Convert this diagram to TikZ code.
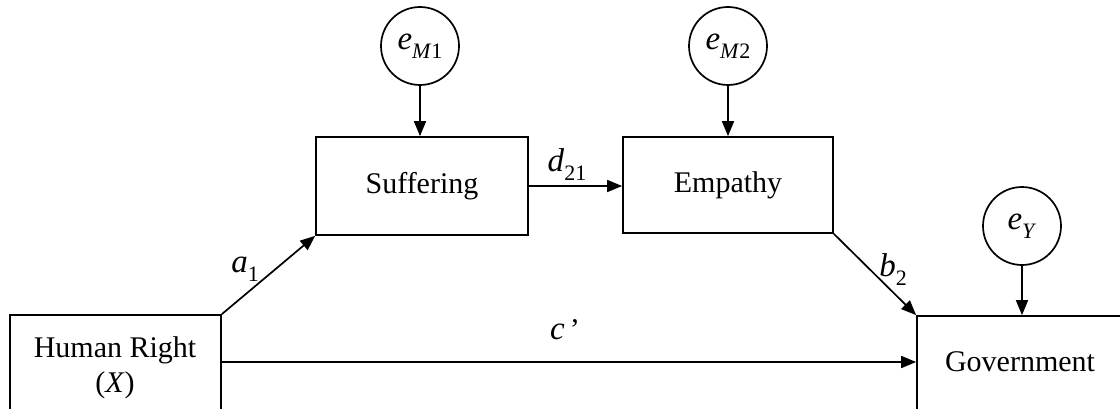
\documentclass[tikz,border=0pt]{standalone}
\usepackage{fontspec}
\setmainfont{Liberation Serif}
\usetikzlibrary{arrows.meta}
\newcommand{\lowsub}[1]{\raisebox{-0.3em}{\fontsize{22}{26}\selectfont #1}}
\newcommand{\bigit}[1]{{\fontsize{33}{38}\selectfont\textit{#1}}}
\begin{document}
\begin{tikzpicture}[x=1pt,y=1pt,
  every node/.style={font=\fontsize{30}{36}\selectfont},
  box/.style={draw, line width=1.7pt, rectangle, inner sep=0pt},
  err/.style={draw, line width=1.7pt, circle, minimum size=78pt, inner sep=0pt},
  lbl/.style={inner sep=0pt},
  arr/.style={line width=1.7pt, -{Triangle[length=15pt,width=12pt]}}]
\useasboundingbox (0,0) rectangle (1120,408);
\clip (0,0) rectangle (1120,408);
% boxes
\node[box, minimum width=211pt, minimum height=160pt] (hr) at (115.5,13) {};
\node[lbl] (hrt) at (115,58) {Human Right};
\node[lbl] (hrx) at (115,23) {(\textit{X})};
\node[box, minimum width=212pt, minimum height=98pt] (suf) at (422,222) {Suffering};
\node[box, minimum width=210pt, minimum height=96pt] (emp) at (728,223) {Empathy};
\node[box, minimum width=207pt, minimum height=160pt] (gov) at (1020.5,12) {};
\node[lbl] (govt) at (1020,46) {Government};
% error terms
\node[err] (em1) at (420,362) {\bigit{e}\lowsub{\textit{M}1}};
\node[err] (em2) at (728,362) {\bigit{e}\lowsub{\textit{M}2}};
\node[err] (ey) at (1022,182) {\bigit{e}\lowsub{\textit{Y}}};
% connectors
\draw[arr] (em1.south) -- (em1.south |- suf.north);
\draw[arr] (em2.south) -- (em2.south |- emp.north);
\draw[arr] (ey.south) -- (ey.south |- gov.north);
\draw[arr] (suf.east) -- (suf.east -| emp.west);
\draw[arr] (hr.north east) -- (suf.south west);
\draw[arr] (emp.south east) -- (gov.north west);
\coordinate (cstart) at (hr.east |- 0,46);
\coordinate (cend) at (gov.west |- 0,46);
\draw[arr] (cstart) -- (cend);
% labels
\node[lbl] (la1) at (245,139) {\bigit{a}\lowsub{1}};
\node[lbl] (lb2) at (893,138) {\bigit{b}\lowsub{2}};
\node[lbl] (lc) at (565,78) {\bigit{c}\,’};
\node[lbl] (ld) at (567,243) {\bigit{d}\lowsub{21}};
\end{tikzpicture}
\end{document}
